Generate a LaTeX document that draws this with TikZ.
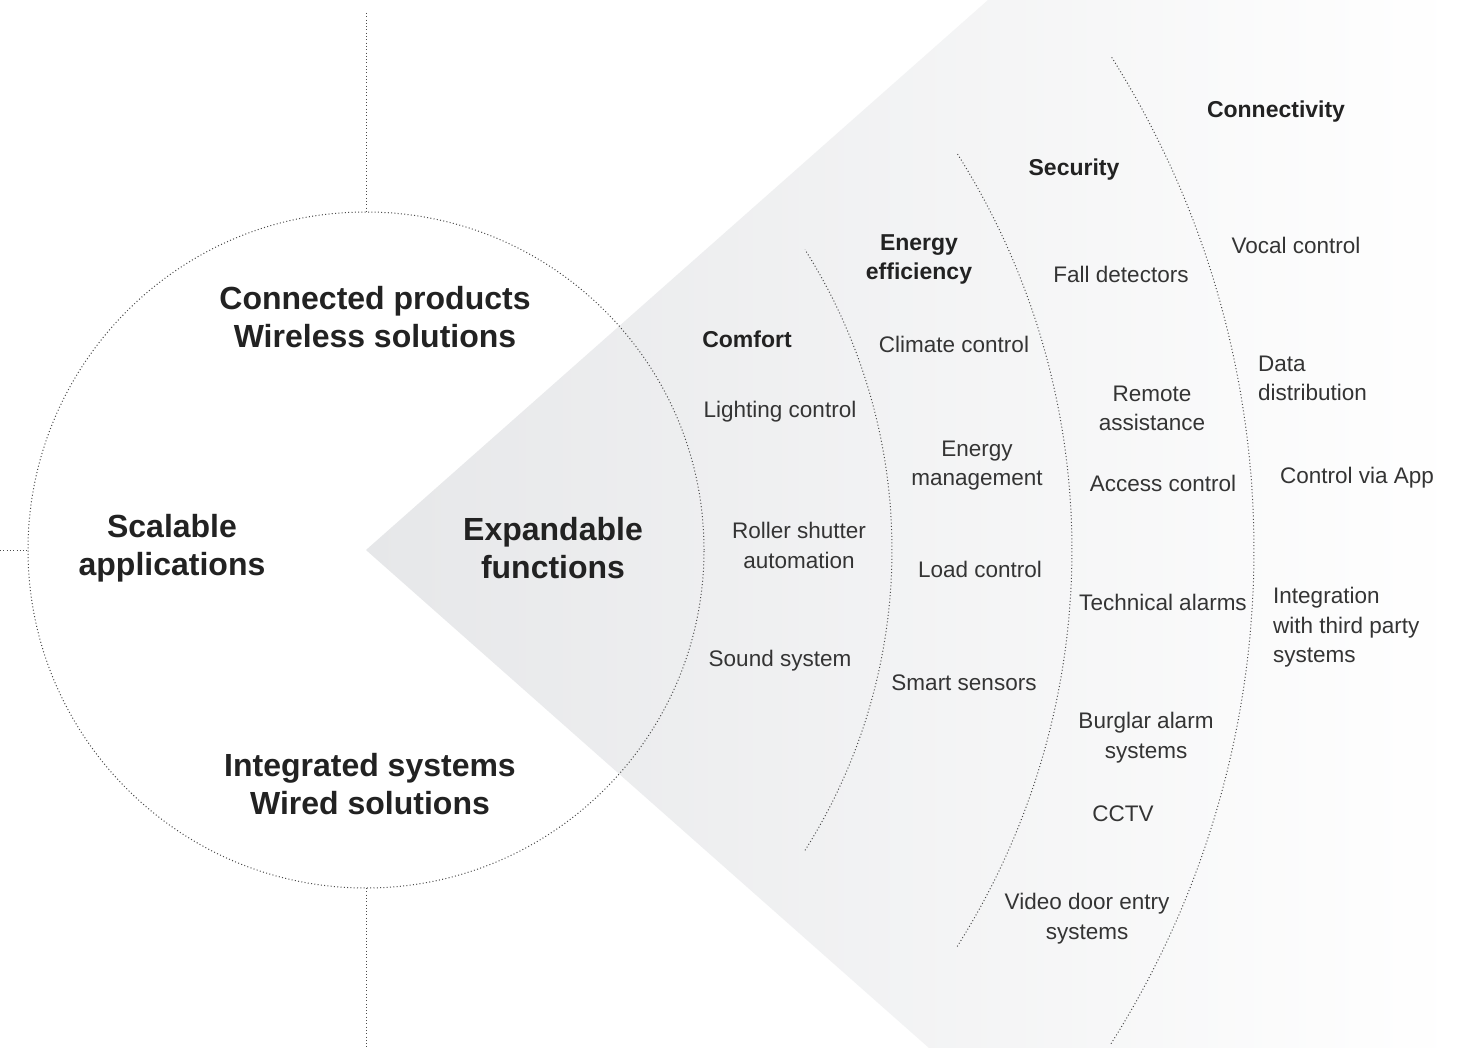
\documentclass[tikz,border=0pt]{standalone}
\usepackage{fontspec}
\setmainfont{Liberation Sans}
\definecolor{conegray}{RGB}{230,231,233}
\definecolor{txtdark}{RGB}{34,34,34}
\definecolor{txtreg}{RGB}{52,52,52}
\definecolor{dotcol}{RGB}{75,75,75}
\tikzset{
  dotline/.style={draw=dotcol, line width=1pt, dash pattern=on 1pt off 2.3pt},
  bigb/.style={font=\bfseries\fontsize{32}{38}\selectfont, text=txtdark, align=center, inner sep=0pt},
  cat/.style={font=\bfseries\fontsize{23}{29}\selectfont, text=txtdark, align=center, inner sep=0pt},
  item/.style={font=\fontsize{22.5}{29.5}\selectfont, text=txtreg, align=center, inner sep=0pt},
  iteml/.style={item, align=left, anchor=west}
}
\begin{document}
\begin{tikzpicture}[x=1pt,y=1pt]
\useasboundingbox (0,0) rectangle (1458,-1048);
\fill[white] (0,0) rectangle (1458,-1048);
% coordinates
\coordinate (C) at (366,-550);
\coordinate (A) at (330,-550);
\coordinate (top1) at (366,-13);
\coordinate (ctop) at (366,-212);
\coordinate (cbot) at (366,-888);
\coordinate (bot1) at (366,-1048);
\coordinate (left1) at (0,-550);
\coordinate (cleft) at (28,-550);
% cone
\shade[left color=conegray, right color=white] (C) -- (988,0) -- (1458,0) -- (1458,-1048) -- (929,-1048) -- cycle;
% big circle and lines
\draw[dotline] (C) circle[radius=338];
\draw[dotline] (top1) -- (ctop);
\draw[dotline] (cbot) -- (bot1);
\draw[dotline] (left1) -- (cleft);
% arcs
\draw[dotline] ([shift={(-32.3:562)}]A) arc[start angle=-32.3, end angle=32.3, radius=562];
\draw[dotline] ([shift={(-32.3:742)}]A) arc[start angle=-32.3, end angle=32.3, radius=742];
\draw[dotline] ([shift={(-32.3:924)}]A) arc[start angle=-32.3, end angle=32.3, radius=924];
\begin{scope}[yshift=-2.5pt]
% big texts
\node[bigb] (conn) at (375,-315) {Connected products\\Wireless solutions};
\node[bigb] (scal) at (172,-546) {Scalable\\applications};
\node[bigb] (expa) at (553,-546) {Expandable\\functions};
\node[bigb] (inte) at (370,-782) {Integrated systems\\Wired solutions};
% Comfort
\node[cat] (comfort) at (747,-337) {Comfort};
\node[item] (light) at (780,-409) {Lighting control};
\node[item] (roller) at (799,-543) {Roller shutter\\automation};
\node[item] (sound) at (780,-658) {Sound system};
% Energy efficiency
\node[cat] (energy) at (919,-257) {Energy\\efficiency};
\node[item] (climate) at (954,-342) {Climate control};
\node[item] (emgmt) at (977,-463) {Energy\\management};
\node[item] (load) at (980,-567) {Load control};
\node[item] (smart) at (964,-680) {Smart sensors};
% Security
\node[cat] (security) at (1074,-167) {Security};
\node[item] (fall) at (1121,-272) {Fall detectors};
\node[item] (remote) at (1152,-406) {Remote\\assistance};
\node[item] (access) at (1163,-481) {Access control};
\node[item] (tech) at (1163,-600) {Technical alarms};
\node[item] (burglar) at (1146,-735) {Burglar alarm\\systems};
\node[item] (cctv) at (1123,-811) {CCTV};
\node[item] (video) at (1087,-916) {Video door entry\\systems};
% Connectivity
\node[cat] (connectivity) at (1276,-109) {Connectivity};
\node[item] (vocal) at (1296,-243) {Vocal control};
\node[iteml] (data) at (1258,-376) {Data\\distribution};
\node[item] (app) at (1357,-475) {Control via App};
\node[iteml] (integ) at (1273,-625) {Integration\\with third party\\systems};
\end{scope}
\end{tikzpicture}
\end{document}
